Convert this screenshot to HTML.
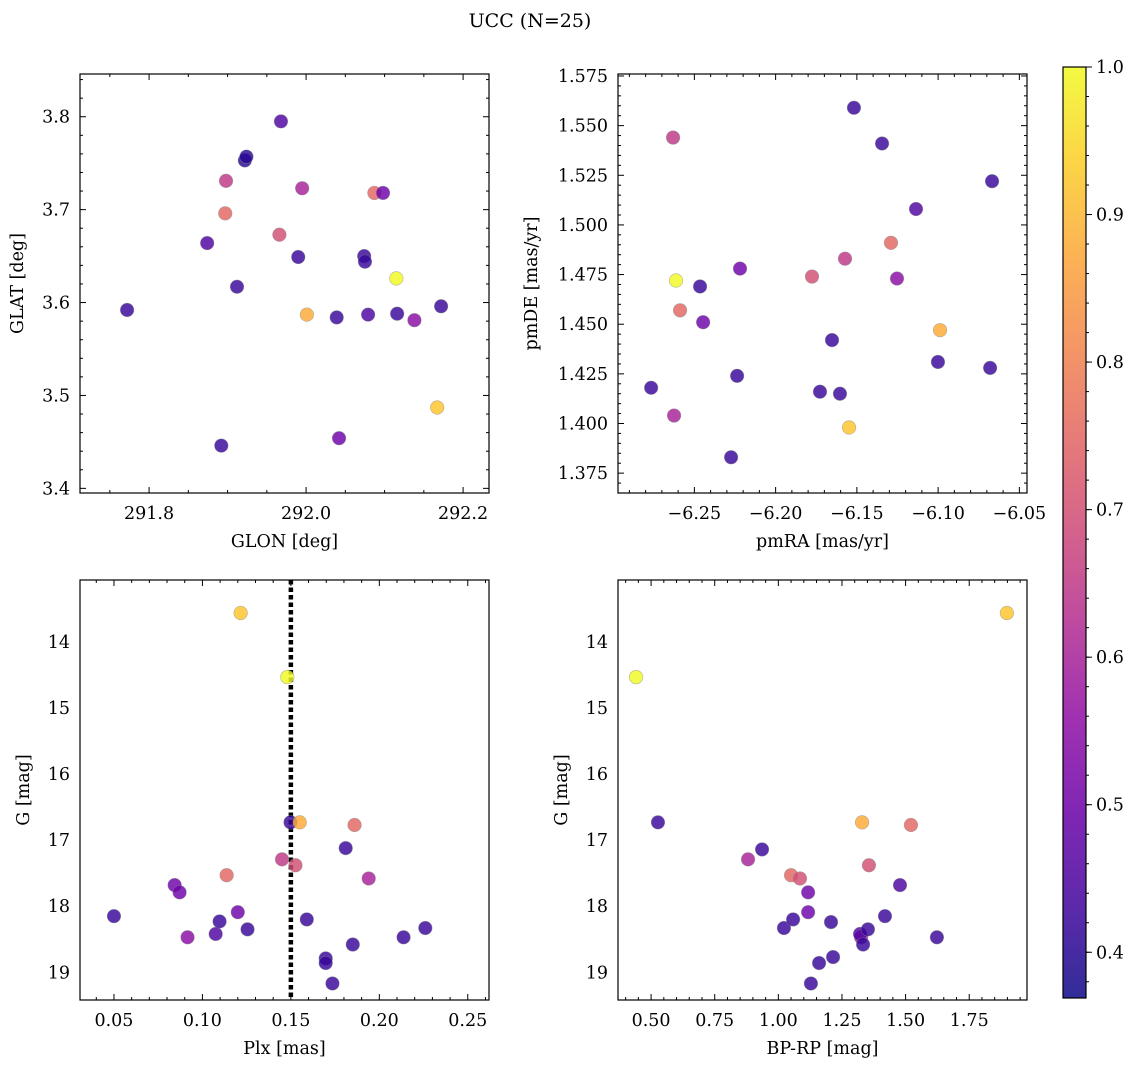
<!DOCTYPE html>
<html><head><meta charset="utf-8">
<style>
html,body{margin:0;padding:0;background:#fff;}
svg{display:block;font-family:"DejaVu Serif","Liberation Serif",serif;}
</style></head>
<body>
<svg id="fig" width="1136" height="1067" viewBox="0 0 1136 1067" xmlns="http://www.w3.org/2000/svg">
<defs>
<linearGradient id="plasma" x1="0" y1="1" x2="0" y2="0">
<stop offset="0" stop-color="#0d0887"/><stop offset="0.1" stop-color="#41049d"/><stop offset="0.2" stop-color="#6a00a8"/><stop offset="0.3" stop-color="#8f0da4"/><stop offset="0.4" stop-color="#b12a90"/><stop offset="0.5" stop-color="#cc4778"/><stop offset="0.6" stop-color="#e16462"/><stop offset="0.7" stop-color="#f2844b"/><stop offset="0.8" stop-color="#fca636"/><stop offset="0.9" stop-color="#fcce25"/><stop offset="1" stop-color="#f0f921"/>
</linearGradient>
</defs>
<text x="530" y="27" font-size="19" text-anchor="middle">UCC (N=25)</text>
</svg>
<script>
// ---- data ----
const glon = [291.772,291.874,291.892,291.898,291.897,291.912,291.922,291.924,291.968,291.966,291.990,291.995,292.001,292.039,292.042,292.074,292.075,292.079,292.087,292.098,292.115,292.116,292.138,292.167,292.172];
const glat = [3.592,3.664,3.446,3.731,3.696,3.617,3.753,3.757,3.795,3.673,3.649,3.723,3.587,3.584,3.454,3.650,3.644,3.587,3.718,3.718,3.626,3.588,3.581,3.487,3.596];
const probA = [0.42,0.45,0.42,0.65,0.75,0.42,0.40,0.40,0.45,0.70,0.42,0.60,0.88,0.42,0.50,0.42,0.42,0.45,0.75,0.50,1.0,0.42,0.55,0.92,0.42];

const pmra = [-6.2766,-6.2625,-6.2613,-6.2588,-6.2631,-6.2465,-6.2446,-6.2274,-6.2237,-6.2219,-6.1776,-6.1727,-6.1653,-6.1604,-6.1573,-6.1548,-6.1518,-6.1345,-6.1290,-6.1253,-6.1136,-6.1001,-6.0988,-6.0680,-6.0668];
const pmde = [1.418,1.404,1.472,1.457,1.544,1.469,1.451,1.383,1.424,1.478,1.474,1.416,1.442,1.415,1.483,1.398,1.559,1.541,1.491,1.473,1.508,1.431,1.447,1.428,1.522];
const probB = [0.42,0.60,1.0,0.75,0.65,0.42,0.50,0.42,0.42,0.50,0.70,0.42,0.42,0.42,0.65,0.92,0.42,0.42,0.75,0.55,0.45,0.42,0.88,0.42,0.42];

const plx = [0.050,0.0843,0.0871,0.0916,0.1075,0.1097,0.1137,0.1200,0.1216,0.1255,0.1450,0.1480,0.1498,0.1526,0.1550,0.1590,0.1697,0.1697,0.1735,0.1810,0.1850,0.1860,0.1940,0.2137,0.2260];
const gmagC = [18.15,17.68,17.79,18.47,18.42,18.23,17.53,18.09,13.56,18.35,17.29,14.53,16.73,17.38,16.73,18.20,18.79,18.86,19.17,17.12,18.58,16.77,17.58,18.47,18.33];
const probC = [0.42,0.50,0.50,0.55,0.45,0.42,0.75,0.50,0.92,0.42,0.65,1.0,0.42,0.70,0.88,0.42,0.42,0.42,0.42,0.42,0.42,0.75,0.60,0.42,0.42];
const plxCut = [0.15];

const bprp = [0.441,0.527,0.881,0.936,1.022,1.058,1.050,1.085,1.117,1.117,1.128,1.160,1.207,1.215,1.325,1.321,1.333,1.329,1.352,1.356,1.419,1.478,1.521,1.623,1.898];
const gmagD = [14.53,16.73,17.29,17.14,18.33,18.20,17.53,17.58,17.79,18.09,19.17,18.86,18.24,18.77,18.47,18.42,18.58,16.73,18.35,17.38,18.15,17.68,16.77,18.47,13.56];
const probD = [1.0,0.42,0.60,0.42,0.42,0.42,0.75,0.70,0.50,0.50,0.42,0.42,0.42,0.42,0.55,0.45,0.42,0.88,0.42,0.70,0.42,0.45,0.75,0.42,0.92];

const ticksA_x = ["291.8","292.0","292.2"];
const ticksA_y = ["3.4","3.5","3.6","3.7","3.8"];
const ticksB_x = ["−6.25","−6.20","−6.15","−6.10","−6.05"];
const ticksB_y = ["1.375","1.400","1.425","1.450","1.475","1.500","1.525","1.550","1.575"];
const ticksC_x = ["0.05","0.10","0.15","0.20","0.25"];
const ticksG_y = ["14","15","16","17","18","19"];
const ticksD_x = ["0.50","0.75","1.00","1.25","1.50","1.75"];
const ticksCbar = ["0.4","0.5","0.6","0.7","0.8","0.9","1.0"];
const cMin = 0.369, cMax = 1.0;

// ---- drawing ----
const NS = "http://www.w3.org/2000/svg";
const svg = document.getElementById('fig');
const FS = 17.5;
function mk(tag, attrs, parent){ const e=document.createElementNS(NS,tag); for(const k in attrs) e.setAttribute(k,attrs[k]); (parent||svg).appendChild(e); return e; }
const stops=[[0,[13,8,135]],[0.1,[65,4,157]],[0.2,[106,0,168]],[0.3,[143,13,164]],[0.4,[177,42,144]],[0.5,[204,71,120]],[0.6,[225,100,98]],[0.7,[242,132,75]],[0.8,[252,166,54]],[0.9,[252,206,37]],[1,[240,249,33]]];
function plasma(t){ t=Math.max(0,Math.min(1,t)); for(let i=1;i<stops.length;i++){ if(t<=stops[i][0]){ const a=stops[i-1],b=stops[i]; const f=(t-a[0])/(b[0]-a[0]); const c=a[1].map((v,j)=>Math.round(v+(b[1][j]-v)*f)); return 'rgb('+c.join(',')+')'; } } return 'rgb(240,249,33)'; }

function panel(o){
  const g = mk('g',{});
  
  
  const X = v => o.L + (v-o.x0)/(o.x1-o.x0)*(o.R-o.L);
  const Y = v => o.B - (v-o.y0)/(o.y1-o.y0)*(o.B-o.T);
  const tg = mk('g',{stroke:'#000','stroke-width':1},g);
  
  
  const eps=1e-9;
  for(let v=Math.ceil(o.x0/o.xm-eps)*o.xm; v<=o.x1+eps; v+=o.xm){
    const px=X(v); const maj=Math.abs(v/o.xM-Math.round(v/o.xM))<1e-6; const len=maj?6:3;
    mk('line',{x1:px,x2:px,y1:o.B,y2:o.B-len},tg); mk('line',{x1:px,x2:px,y1:o.T,y2:o.T+len},tg);
  }
  for(let v=Math.ceil(o.y0/o.ym-eps)*o.ym; v<=o.y1+eps; v+=o.ym){
    const py=Y(v); const maj=Math.abs(v/o.yM-Math.round(v/o.yM))<1e-6; const len=maj?6:3;
    mk('line',{y1:py,y2:py,x1:o.L,x2:o.L+len},tg); mk('line',{y1:py,y2:py,x1:o.R,x2:o.R-len},tg);
  }
  o.xt.forEach(s=>{ const v=parseFloat(s.replace('−','-')); const t=mk('text',{x:X(v),y:o.B+26,'font-size':FS,'text-anchor':'middle'},g); t.textContent=s;
      });
  o.yt.forEach(s=>{ const v=parseFloat(s); const t=mk('text',{x:o.L-10,y:Y(v)+6,'font-size':FS,'text-anchor':'end'},g); t.textContent=s;
      });
  const xl=mk('text',{x:(o.L+o.R)/2,y:o.B+54,'font-size':FS,'text-anchor':'middle'},g); xl.textContent=o.xlab;
   
  const ly=(o.T+o.B)/2;
  const yl=mk('text',{x:o.ylx,y:ly,'font-size':FS,'text-anchor':'middle',transform:'rotate(-90 '+o.ylx+' '+ly+')'},g); yl.textContent=o.ylab;
   
  if(o.vline!==undefined){
    const l=mk('line',{x1:X(o.vline),x2:X(o.vline),y1:o.T,y2:o.B,stroke:'#000','stroke-width':4.5,'stroke-dasharray':'4.5 3'},g);
     
  }
  o.xs.forEach((v,i)=>{
    const c=mk('circle',{cx:X(v),cy:Y(o.ys[i]),r:6.8,fill:plasma((o.cs[i]-cMin)/(cMax-cMin)),'fill-opacity':0.82,stroke:'#888','stroke-opacity':0.6,'stroke-width':0.6},g);
    
    
  });
  const fr=mk('rect',{x:o.L,y:o.T,width:o.R-o.L,height:o.B-o.T,fill:'none',stroke:'#000','stroke-width':1.2},g);
   
}

panel({name:'glon-glat-panel',L:80,R:489,T:74,B:493,x0:291.712,x1:292.233,y0:3.395,y1:3.846,xM:0.2,xm:0.05,yM:0.1,ym:0.02,
  xt:ticksA_x,yt:ticksA_y,xlab:'GLON [deg]',ylab:'GLAT [deg]',ylx:23,xs:glon,ys:glat,cs:probA});
panel({name:'pm-panel',L:618,R:1027,T:74,B:493,x0:-6.297,x1:-6.0453,y0:1.365,y1:1.576,xM:0.05,xm:0.01,yM:0.025,ym:0.005,
  xt:ticksB_x,yt:ticksB_y,xlab:'pmRA [mas/yr]',ylab:'pmDE [mas/yr]',ylx:537,xs:pmra,ys:pmde,cs:probB});
panel({name:'plx-g-panel',L:80,R:489,T:580,B:1000,x0:0.0308,x1:0.262,y0:19.42,y1:13.06,xM:0.05,xm:0.01,yM:1,ym:0.2,
  xt:ticksC_x,yt:ticksG_y,xlab:'Plx [mas]',ylab:'G [mag]',ylx:29,xs:plx,ys:gmagC,cs:probC,vline:plxCut[0]});
panel({name:'cmd-panel',L:618,R:1027,T:580,B:1000,x0:0.370,x1:1.977,y0:19.42,y1:13.06,xM:0.25,xm:0.05,yM:1,ym:0.2,
  xt:ticksD_x,yt:ticksG_y,xlab:'BP-RP [mag]',ylab:'G [mag]',ylx:567,xs:bprp,ys:gmagD,cs:probD});

(function(){
  const L=1063,R=1086,T=67,B=998;
  const g=mk('g',{});
   
  mk('rect',{x:L,y:T,width:R-L,height:B-T,fill:'url(#plasma)','fill-opacity':0.85},g);
  const Y=v=>B-(v-cMin)/(cMax-cMin)*(B-T);
  for(let v=0.38; v<=1.0001; v+=0.02){ mk('line',{x1:R,x2:R+3,y1:Y(v),y2:Y(v),stroke:'#000'},g); }
  ticksCbar.forEach(s=>{ const v=parseFloat(s); mk('line',{x1:R,x2:R+6,y1:Y(v),y2:Y(v),stroke:'#000'},g);
    const t=mk('text',{x:R+10,y:Y(v)+6,'font-size':FS},g); t.textContent=s;
      });
  mk('rect',{x:L,y:T,width:R-L,height:B-T,fill:'none',stroke:'#000','stroke-width':1.2},g);
})();
</script>
</body></html>
